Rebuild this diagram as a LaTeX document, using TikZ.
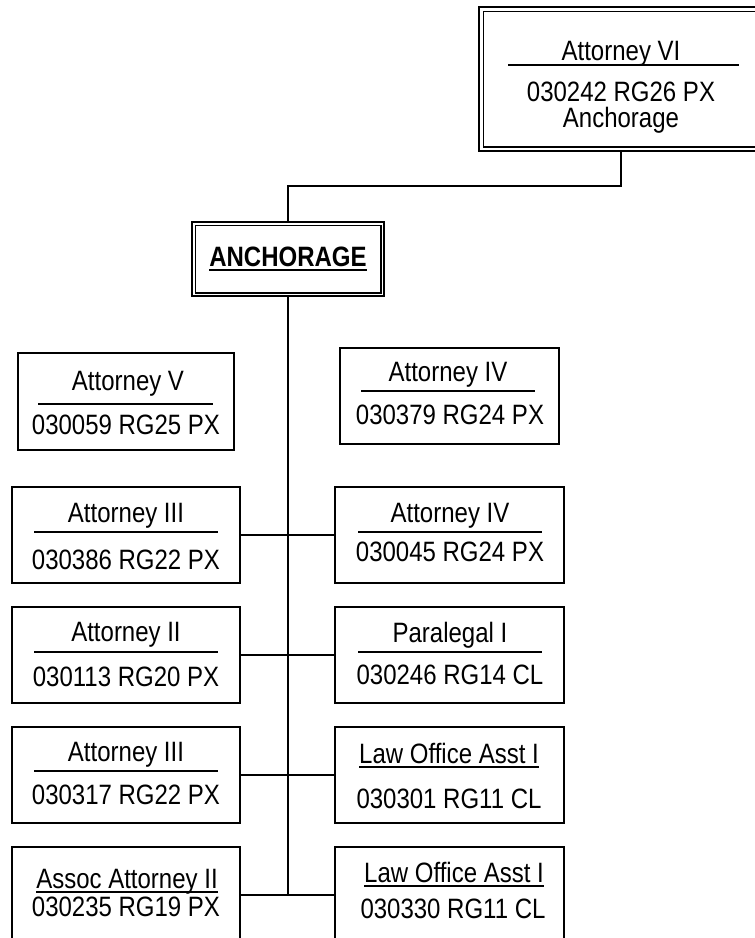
\documentclass[tikz,border=0pt]{standalone}
\usepackage{fontspec}
\setmainfont{Liberation Sans}
\newfontfamily\lblfam[FakeStretch=0.857]{Liberation Sans}
\newcommand{\lblfont}{\lblfam\fontsize{28}{32}\selectfont}
\tikzset{
  box/.style={draw, line width=1.7pt, inner sep=0pt},
  lbl/.style={anchor=base, inner sep=0pt, font=\lblfont},
  rulebar/.style={line width=1.4pt},
  conn/.style={line width=1.7pt},
  innerframe/.style={line width=1.1pt}
}
\begin{document}
\begin{tikzpicture}[x=1pt,y=-1pt]
\useasboundingbox (0,0) rectangle (755,938);
\clip (0,0) rectangle (755,938);

% ---------- boxes ----------
\node[box, minimum width=284pt, minimum height=144pt, line width=1.9pt] (top) at (621,79) {};
\draw[innerframe] ([shift={(5pt,5pt)}]top.south west) rectangle ([shift={(-5pt,-5pt)}]top.north east);
\node[box, minimum width=192pt, minimum height=74pt, line width=1.9pt] (anch) at (288,259) {};
\draw[innerframe] ([shift={(4pt,4pt)}]anch.south west) rectangle ([shift={(-4pt,-4pt)}]anch.north east);

\node[box, minimum width=216pt, minimum height=97pt] (av) at (126,401.5) {};
\node[box, minimum width=219pt, minimum height=96pt] (aiv) at (449.5,396) {};

\node[box, minimum width=228pt, minimum height=96pt] (l2) at (126,535) {};
\node[box, minimum width=229pt, minimum height=96pt] (r2) at (449.5,535) {};
\node[box, minimum width=228pt, minimum height=96pt] (l3) at (126,655) {};
\node[box, minimum width=229pt, minimum height=96pt] (r3) at (449.5,655) {};
\node[box, minimum width=228pt, minimum height=96pt] (l4) at (126,775) {};
\node[box, minimum width=229pt, minimum height=96pt] (r4) at (449.5,775) {};
\node[box, minimum width=228pt, minimum height=96pt] (l5) at (126,895) {};
\node[box, minimum width=229pt, minimum height=96pt] (r5) at (449.5,895) {};

% ---------- connectors ----------
\coordinate (trunkend) at (anch.south |- l5.east);
\draw[conn] (top.south) -- ++(0,34) -| (anch.north);
\draw[conn] (anch.south) -- (trunkend);
\draw[conn] (l2) -- (r2);
\draw[conn] (l3) -- (r3);
\draw[conn] (l4) -- (r4);
\draw[conn] (l5) -- (r5);

% ---------- top box ----------
\node[lbl] (t1) at (621,60) {Attorney VI};
\draw[rulebar] (508,65) -- (739,65);
\node[lbl] (t2) at (621,101) {030242 RG26 PX};
\node[lbl] (t3) at (621,127) {Anchorage};

% ---------- ANCHORAGE ----------
\node[lbl, font=\lblfont\bfseries] (an) at (288,266) {ANCHORAGE};
\draw[line width=1.9pt] ([yshift=-4pt]an.base west) -- ([yshift=-4pt]an.base east);

% ---------- Attorney V ----------
\node[lbl] (avt) at (128,390) {Attorney V};
\draw[rulebar] (38,404) -- (213,404);
\node[lbl] (avn) at (126,434) {030059 RG25 PX};

% ---------- Attorney IV (top right) ----------
\node[lbl] (aivt) at (448,381) {Attorney IV};
\draw[rulebar] (361,391) -- (535,391);
\node[lbl] (aivn) at (450,424) {030379 RG24 PX};

% ---------- row 2 ----------
\node[lbl] (l2t) at (126,522) {Attorney III};
\draw[rulebar] (34,532) -- (218,532);
\node[lbl] (l2n) at (126,569) {030386 RG22 PX};
\node[lbl] (r2t) at (450,522) {Attorney IV};
\draw[rulebar] (358,532) -- (542,532);
\node[lbl] (r2n) at (450,561) {030045 RG24 PX};

% ---------- row 3 ----------
\node[lbl] (l3t) at (126,641) {Attorney II};
\draw[rulebar] (34,652) -- (218,652);
\node[lbl] (l3n) at (126,686) {030113 RG20 PX};
\node[lbl] (r3t) at (450,642) {Paralegal I};
\draw[rulebar] (358,652) -- (542,652);
\node[lbl] (r3n) at (450,684) {030246 RG14 CL};

% ---------- row 4 ----------
\node[lbl] (l4t) at (126,761) {Attorney III};
\draw[rulebar] (34,771) -- (218,771);
\node[lbl] (l4n) at (126,804) {030317 RG22 PX};
\node[lbl] (r4t) at (449,763) {Law Office Asst I};
\draw[rulebar] ([yshift=-4pt]r4t.base west) -- ([yshift=-4pt]r4t.base east);
\node[lbl] (r4n) at (449,808) {030301 RG11 CL};

% ---------- row 5 ----------
\node[lbl] (l5t) at (127,888) {Assoc Attorney II};
\draw[rulebar] ([yshift=-4pt]l5t.base west) -- ([yshift=-4pt]l5t.base east);
\node[lbl] (l5n) at (126,916) {030235 RG19 PX};
\node[lbl] (r5t) at (454,882) {Law Office Asst I};
\draw[rulebar] ([yshift=-4pt]r5t.base west) -- ([yshift=-4pt]r5t.base east);
\node[lbl] (r5n) at (453,918) {030330 RG11 CL};
\end{tikzpicture}
\end{document}
